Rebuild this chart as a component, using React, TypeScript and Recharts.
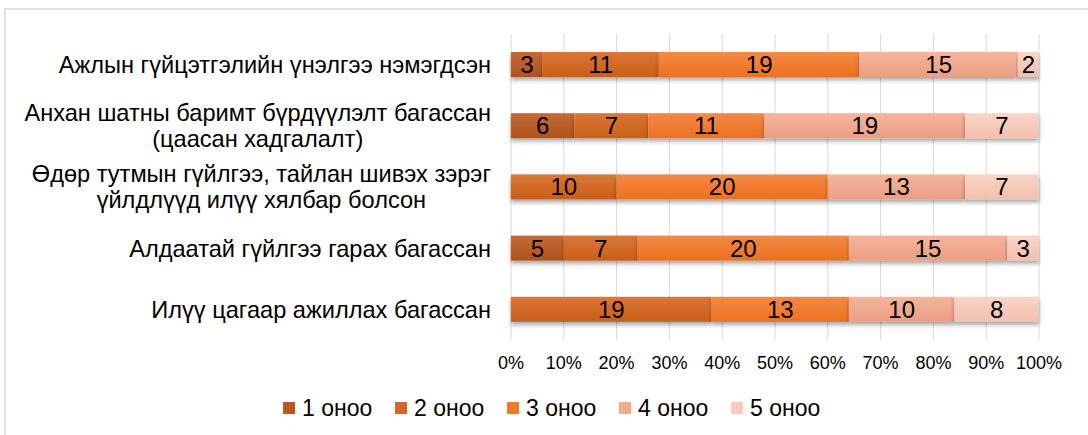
import React from 'react';
import { BarChart, Bar, XAxis, YAxis, CartesianGrid, LabelList } from 'recharts';

const categories = [
  'Ажлын гүйцэтгэлийн үнэлгээ нэмэгдсэн',
  'Анхан шатны баримт бүрдүүлэлт багассан (цаасан хадгалалт)',
  'Өдөр тутмын гүйлгээ, тайлан шивэх зэрэг үйлдлүүд илүү хялбар болсон',
  'Алдаатай гүйлгээ гарах багассан',
  'Илүү цагаар ажиллах багассан',
];
const categoryLines = [
  ['Ажлын гүйцэтгэлийн үнэлгээ нэмэгдсэн'],
  ['Анхан шатны баримт бүрдүүлэлт багассан', '(цаасан хадгалалт)'],
  ['Өдөр тутмын гүйлгээ, тайлан шивэх зэрэг', 'үйлдлүүд илүү хялбар болсон'],
  ['Алдаатай гүйлгээ гарах багассан'],
  ['Илүү цагаар ажиллах багассан'],
];
const seriesNames = ['1 оноо', '2 оноо', '3 оноо', '4 оноо', '5 оноо'];
const score1 = [3, 6, 0, 5, 0];
const score2 = [11, 7, 10, 7, 19];
const score3 = [19, 11, 20, 20, 13];
const score4 = [15, 19, 13, 15, 10];
const score5 = [2, 7, 7, 3, 8];
const xTicks = [0, 0.1, 0.2, 0.3, 0.4, 0.5, 0.6, 0.7, 0.8, 0.9, 1];

const seriesKeys = ['s1', 's2', 's3', 's4', 's5'];
const gradTop = ['#C46A38', '#DA7636', '#F48A45', '#F5B59C', '#F9D5C8'];
const gradBottom = ['#B0521A', '#CA5E19', '#EC7020', '#EA9E82', '#F2C0AE'];
const legendColors = ['#B9581F', '#D4682A', '#F07A2A', '#F2A98C', '#F7CBBB'];

const data = categories.map((name, i) => ({
  name,
  s1: score1[i],
  s2: score2[i],
  s3: score3[i],
  s4: score4[i],
  s5: score5[i],
}));

const FONT = "'Liberation Sans', Arial, sans-serif";
let ctx: CanvasRenderingContext2D | null = null;
const measure = (t: string, font: string) => {
  if (!ctx) ctx = document.createElement('canvas').getContext('2d');
  if (!ctx) return t.length * 12;
  ctx.font = font;
  return ctx.measureText(t).width;
};

const CAT_SIZE = 23.6;
const CategoryTick = (props: any) => {
  const { y, payload } = props;
  const idx = categories.indexOf(payload.value);
  const lines = categoryLines[idx] || [String(payload.value)];
  const right = 491;
  const maxW = Math.max(...lines.map((l) => measure(l, `${CAT_SIZE}px ${FONT}`)));
  const cx = right - maxW / 2;
  const lh = 26;
  return (
    <g>
      {lines.map((l, i) => (
        <text
          key={i}
          x={cx}
          y={y + (i - (lines.length - 1) / 2) * lh}
          dy="0.36em"
          textAnchor="middle"
          fontSize={CAT_SIZE}
          fontFamily={FONT}
          fill="#000"
        >
          {l}
        </text>
      ))}
    </g>
  );
};

const ShadowRect = (props: any) => {
  const { x, y, width, height, fill } = props;
  if (!width || width <= 0) return null;
  return <rect x={x} y={y} width={width} height={height} fill={fill} filter="url(#barShadow)" />;
};

export default function App() {
  return (
    <div
      style={{
        position: 'fixed',
        left: 0,
        top: 0,
        width: 1088,
        height: 435,
        overflow: 'hidden',
        background: '#fff',
        fontFamily: FONT,
      }}
    >
      <div
        style={{
          position: 'absolute',
          left: 4,
          top: 8,
          width: 1200,
          height: 600,
          border: '2px solid #E2E2E2',
        }}
      />
      <div style={{ position: 'absolute', left: 0, top: 0 }}>
        <BarChart
          width={1088}
          height={435}
          data={data}
          layout="vertical"
          stackOffset="expand"
          margin={{ top: 34, right: 49, bottom: 65, left: 0 }}
        >
          <defs>
            {seriesKeys.map((k, i) => (
              <linearGradient key={k} id={`grad${i}`} x1="0" y1="0" x2="0" y2="1">
                <stop offset="0%" stopColor={gradTop[i]} />
                <stop offset="100%" stopColor={gradBottom[i]} />
              </linearGradient>
            ))}
            <filter id="barShadow" x="-5%" y="-30%" width="110%" height="180%">
              <feDropShadow dx="0" dy="3" stdDeviation="2" floodColor="#000" floodOpacity="0.35" />
            </filter>
          </defs>
          <CartesianGrid horizontal={false} stroke="#D9D9D9" />
          <XAxis
            type="number"
            domain={[0, 1]}
            ticks={xTicks}
            tickFormatter={(v: number) => `${Math.round(v * 100)}%`}
            axisLine={false}
            tickLine={false}
            tickMargin={10}
            height={30}
            tick={{ fontSize: 18, fill: '#000', fontFamily: FONT }}
            interval={0}
          />
          <YAxis
            type="category"
            dataKey="name"
            width={511}
            axisLine={false}
            tickLine={false}
            tick={<CategoryTick />}
            interval={0}
          />
          {seriesKeys.map((k, i) => (
            <Bar
              key={k}
              dataKey={k}
              name={seriesNames[i]}
              stackId="a"
              fill={`url(#grad${i})`}
              barSize={25}
              shape={<ShadowRect />}
              isAnimationActive={false}
            >
              <LabelList
                dataKey={k}
                position="center"
                fill="#000"
                fontSize={24}
                fontFamily={FONT}
                formatter={(v: any) => (v ? v : '')}
              />
            </Bar>
          ))}
        </BarChart>
      </div>
      <div
        style={{
          position: 'absolute',
          left: 283,
          top: 396,
          height: 24,
          display: 'flex',
          alignItems: 'center',
          whiteSpace: 'nowrap',
        }}
      >
        {seriesNames.map((n, i) => (
          <div key={n} style={{ display: 'flex', alignItems: 'center', width: 112 }}>
            <span
              style={{
                display: 'inline-block',
                width: 12,
                height: 12,
                background: legendColors[i],
                marginRight: 7,
              }}
            />
            <span style={{ fontSize: 23, color: '#000', lineHeight: '24px' }}>{n}</span>
          </div>
        ))}
      </div>
    </div>
  );
}
